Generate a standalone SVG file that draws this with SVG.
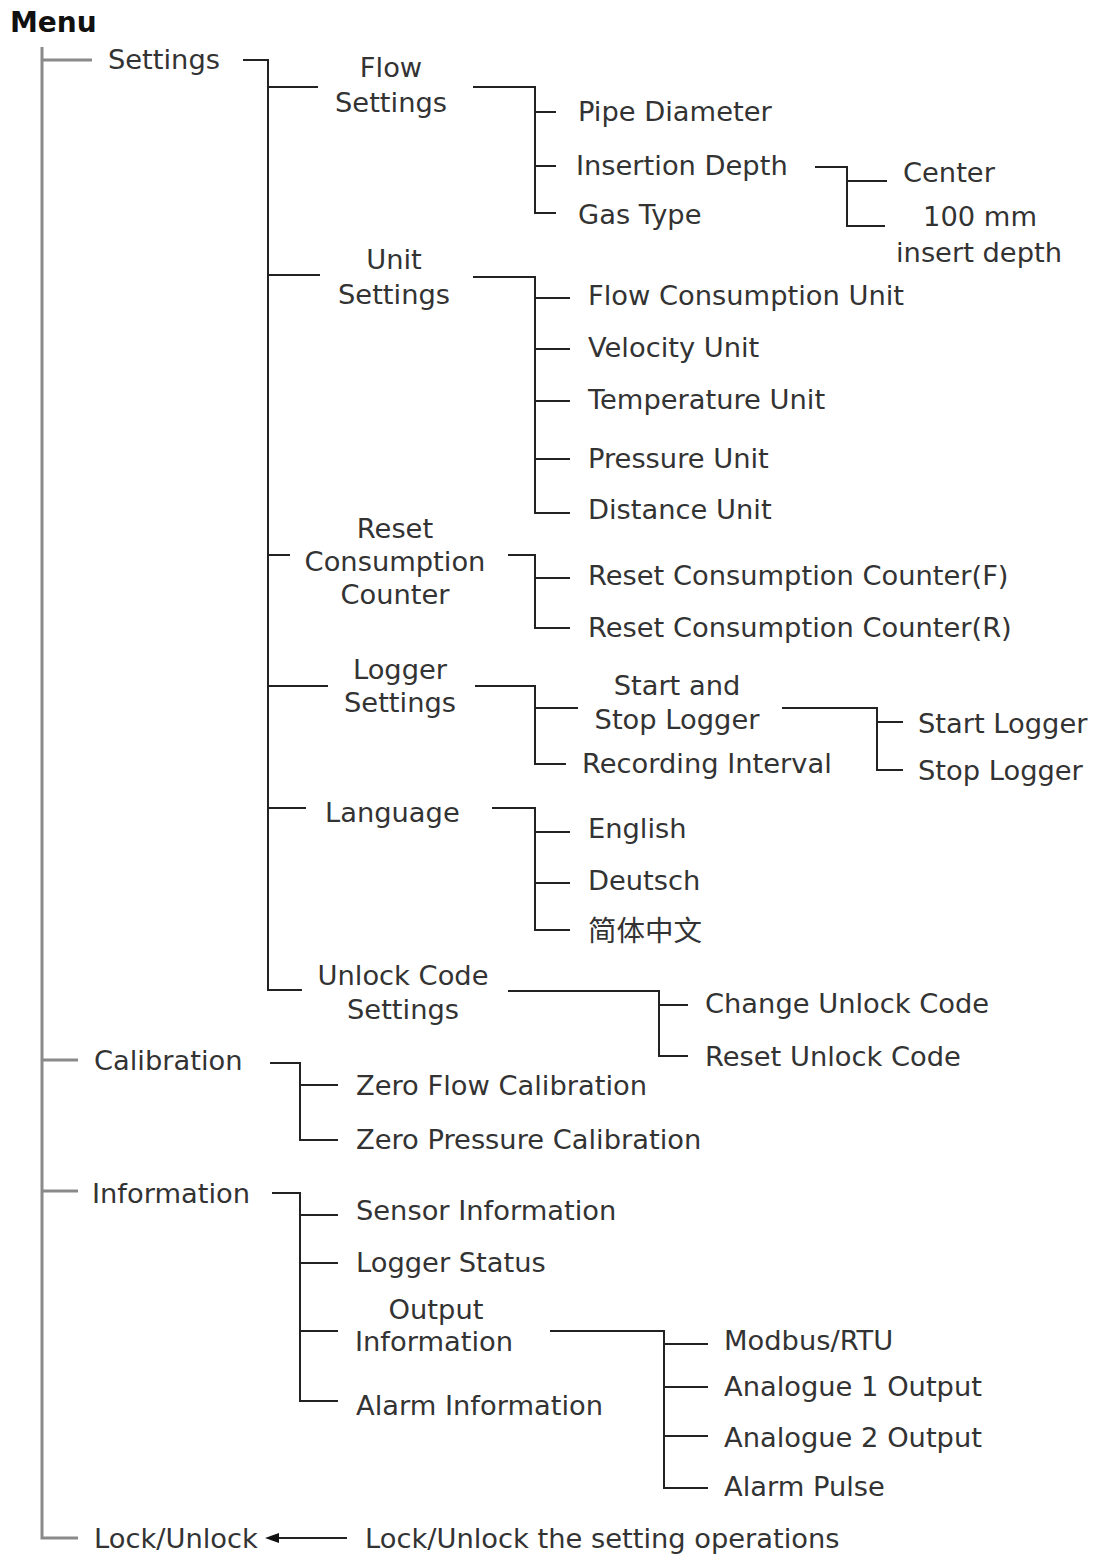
<svg xmlns="http://www.w3.org/2000/svg" width="1098" height="1556" viewBox="0 0 1098 1556">
<style>
text{font-family:"DejaVu Sans","Noto Sans CJK SC",sans-serif;font-size:27.3px;fill:#333}
.t{font-weight:bold;font-size:28px;fill:#111}
.m{text-anchor:middle}
.cjk{font-family:"Noto Sans CJK SC",sans-serif;font-size:28.5px}
.l{stroke:#222;stroke-width:2;fill:none}
.g{stroke:#8a8a8a;stroke-width:3;fill:none}
</style>
<defs>
<marker id="ah" viewBox="0 0 14 10" refX="0" refY="5" markerWidth="14" markerHeight="10" markerUnits="userSpaceOnUse" orient="auto">
<path d="M0 0 L14 5 L0 10 Z" fill="#111"/>
</marker>
</defs>
<g id="connectors">
<path class="g" d="M42 47 V1538 H78"/>
<path class="g" d="M42 60 H92 M42 1060 H78 M42 1191 H78"/>
<path class="l" d="M243 60 H268 V990 H302 M268 87 H318 M268 275 H320 M268 555 H290 M268 686 H328 M268 808 H306"/>
<path class="l" d="M473 87 H535 V213 H556 M535 112 H556 M535 166 H556"/>
<path class="l" d="M815 167 H847 V226 H885 M847 181 H887"/>
<path class="l" d="M473 277 H535 V513 H570 M535 298 H570 M535 349 H570 M535 401 H570 M535 459 H570"/>
<path class="l" d="M508 555 H535 V628 H570 M535 578 H570"/>
<path class="l" d="M475 686 H535 V764 H566 M535 708 H578"/>
<path class="l" d="M782 708 H877 V770 H903 M877 722 H903"/>
<path class="l" d="M492 808 H535 V930 H570 M535 832 H570 M535 883 H570"/>
<path class="l" d="M508 991 H659 V1056 H688 M659 1005 H688"/>
<path class="l" d="M270 1063 H300 V1140 H338 M300 1085 H338"/>
<path class="l" d="M272 1193 H300 V1401 H338 M300 1215 H338 M300 1263 H338 M300 1331 H338"/>
<path class="l" d="M550 1331 H664 V1488 H708 M664 1344 H708 M664 1387 H708 M664 1436 H708"/>
<line class="l" x1="347" y1="1538" x2="279" y2="1538" marker-end="url(#ah)"/>
</g>
<g id="menu"><text class="t" x="10" y="32">Menu</text></g>
<g id="settings"><text x="108" y="69">Settings</text></g>
<g id="flow-settings"><text class="m" x="391" y="77">Flow</text><text class="m" x="391" y="112">Settings</text></g>
<g id="pipe-diameter"><text x="578" y="121">Pipe Diameter</text></g>
<g id="insertion-depth"><text x="576" y="175">Insertion Depth</text></g>
<g id="gas-type"><text x="578" y="224">Gas Type</text></g>
<g id="center"><text x="903" y="182">Center</text></g>
<g id="insert-100"><text class="m" x="980" y="226">100 mm</text><text class="m" x="979" y="262">insert depth</text></g>
<g id="unit-settings"><text class="m" x="394" y="269">Unit</text><text class="m" x="394" y="304">Settings</text></g>
<g id="flow-consumption-unit"><text x="588" y="305">Flow Consumption Unit</text></g>
<g id="velocity-unit"><text x="588" y="357">Velocity Unit</text></g>
<g id="temperature-unit"><text x="588" y="409">Temperature Unit</text></g>
<g id="pressure-unit"><text x="588" y="468">Pressure Unit</text></g>
<g id="distance-unit"><text x="588" y="519">Distance Unit</text></g>
<g id="reset-consumption-counter"><text class="m" x="395" y="538">Reset</text><text class="m" x="395" y="571">Consumption</text><text class="m" x="395" y="604">Counter</text></g>
<g id="reset-f"><text x="588" y="585">Reset Consumption Counter(F)</text></g>
<g id="reset-r"><text x="588" y="637">Reset Consumption Counter(R)</text></g>
<g id="logger-settings"><text class="m" x="400" y="679">Logger</text><text class="m" x="400" y="712">Settings</text></g>
<g id="start-stop-logger"><text class="m" x="677" y="695">Start and</text><text class="m" x="677" y="729">Stop Logger</text></g>
<g id="recording-interval"><text x="582" y="773">Recording Interval</text></g>
<g id="start-logger"><text x="918" y="733">Start Logger</text></g>
<g id="stop-logger"><text x="918" y="780">Stop Logger</text></g>
<g id="language"><text x="325" y="822">Language</text></g>
<g id="english"><text x="588" y="838">English</text></g>
<g id="deutsch"><text x="588" y="890">Deutsch</text></g>
<g id="chinese"><text class="cjk" x="588" y="941">简体中文</text></g>
<g id="unlock-code-settings"><text class="m" x="403" y="985">Unlock Code</text><text class="m" x="403" y="1019">Settings</text></g>
<g id="change-unlock-code"><text x="705" y="1013">Change Unlock Code</text></g>
<g id="reset-unlock-code"><text x="705" y="1066">Reset Unlock Code</text></g>
<g id="calibration"><text x="94" y="1070">Calibration</text></g>
<g id="zero-flow"><text x="356" y="1095">Zero Flow Calibration</text></g>
<g id="zero-pressure"><text x="356" y="1149">Zero Pressure Calibration</text></g>
<g id="information"><text x="92" y="1203">Information</text></g>
<g id="sensor-information"><text x="356" y="1220">Sensor Information</text></g>
<g id="logger-status"><text x="356" y="1272">Logger Status</text></g>
<g id="output-information"><text class="m" x="436" y="1319">Output</text><text x="355" y="1351">Information</text></g>
<g id="alarm-information"><text x="356" y="1415">Alarm Information</text></g>
<g id="modbus"><text x="724" y="1350">Modbus/RTU</text></g>
<g id="analogue1"><text x="724" y="1396">Analogue 1 Output</text></g>
<g id="analogue2"><text x="724" y="1447">Analogue 2 Output</text></g>
<g id="alarm-pulse"><text x="724" y="1496">Alarm Pulse</text></g>
<g id="lock-unlock"><text x="94" y="1548">Lock/Unlock</text></g>
<g id="lock-note"><text x="365" y="1548">Lock/Unlock the setting operations</text></g>
</svg>
